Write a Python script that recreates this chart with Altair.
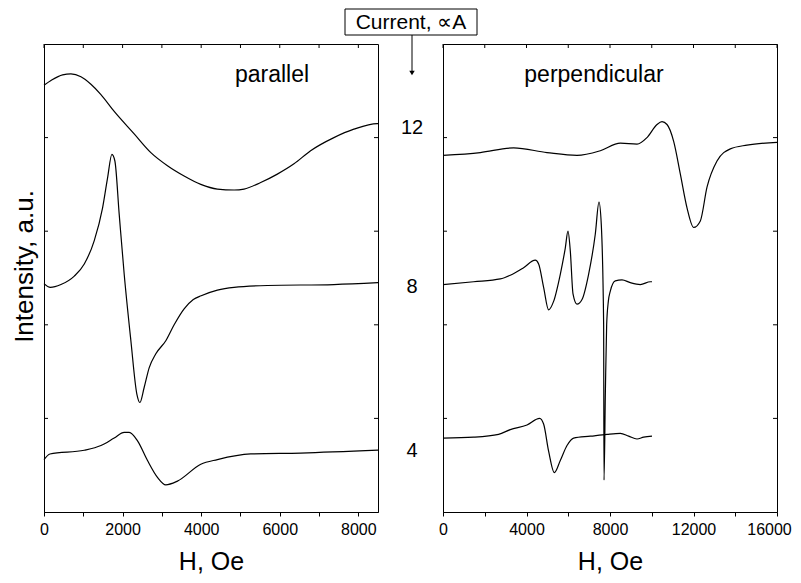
import altair as alt
import pandas as pd

# ---------------- data ----------------
currents = ["12", "8", "4"]

# parallel panel
par_h_12 = [0, 178, 474, 686, 940, 1194, 1449, 1787, 2295, 2719, 3142, 3566, 3990, 4413,
            4837, 5091, 5515, 5938, 6362, 6785, 7378, 7886, 8479, 8500]
par_i_12 = [4.56, 4.61, 4.67, 4.68, 4.65, 4.57, 4.46, 4.28, 4.04, 3.84, 3.70, 3.59, 3.50, 3.45,
            3.44, 3.45, 3.52, 3.61, 3.72, 3.86, 4.00, 4.09, 4.15, 4.15]

par_h_8 = [0, 161, 432, 771, 1025, 1279, 1491, 1618, 1728, 1804, 1914, 2041, 2211, 2363, 2440,
           2549, 2676, 2846, 3100, 3312, 3566, 3800, 4000, 4413, 4837, 5684, 7378, 8500]
par_i_8 = [2.44, 2.40, 2.43, 2.52, 2.65, 2.90, 3.25, 3.57, 3.82, 3.75, 3.18, 2.54, 1.83, 1.26, 1.17,
           1.33, 1.54, 1.69, 1.83, 2.00, 2.17, 2.27, 2.31, 2.37, 2.40, 2.42, 2.43, 2.45]

par_h_4 = [0, 151, 1025, 1449, 1787, 2041, 2168, 2380, 2634, 2888, 3100, 3396, 3990, 4413,
           5260, 6531, 8500]
par_i_4 = [0.56, 0.62, 0.66, 0.71, 0.79, 0.85, 0.85, 0.76, 0.55, 0.37, 0.29, 0.33, 0.51, 0.56,
           0.62, 0.63, 0.66]

# perpendicular panel
per_h_12 = [0, 1788, 3385, 4982, 6419, 7537, 8495, 9294, 9772, 10252, 10491, 10731, 11050, 11370,
            11689, 12008, 12327, 12647, 13126, 13764, 14563, 16000]
per_i_12 = [3.81, 3.84, 3.89, 3.84, 3.81, 3.86, 3.94, 3.93, 4.00, 4.14, 4.17, 4.14, 3.96, 3.61,
            3.25, 3.04, 3.11, 3.47, 3.75, 3.88, 3.92, 3.95]

per_h_8 = [0, 1466, 2745, 3224, 3861, 4421, 4581, 4820, 5059, 5298, 5619, 5858, 5987, 6098, 6228,
           6419, 6659, 6975, 7296, 7472, 7583, 7695, 7713, 7780, 7840, 7920, 8015, 8254, 8575,
           8973, 9452, 9931, 10012]
per_i_8 = [2.43, 2.46, 2.49, 2.53, 2.61, 2.69, 2.65, 2.40, 2.16, 2.25, 2.54, 2.82, 3.00, 2.79, 2.33,
           2.22, 2.27, 2.54, 2.97, 3.31, 3.07, 2.01, 0.34, 1.30, 2.00, 2.25, 2.36, 2.47, 2.48,
           2.45, 2.43, 2.46, 2.46]

per_h_4 = [0, 1466, 2663, 3224, 4024, 4629, 4820, 5059, 5332, 5619, 5940, 6257, 7057, 7856, 8495,
           8893, 9293, 9612, 10012]
per_i_4 = [0.79, 0.80, 0.83, 0.88, 0.93, 1.00, 0.94, 0.65, 0.42, 0.55, 0.71, 0.79, 0.81, 0.83, 0.84,
           0.81, 0.78, 0.80, 0.81]

par_ticks = [0, 1000, 2000, 3000, 4000, 5000, 6000, 7000, 8000]
per_ticks = [0, 2000, 4000, 6000, 8000, 10000, 12000, 14000, 16000]
y_ticks = [1, 2, 3, 4]

# ---------------- helpers ----------------
FONT = "Liberation Sans"
W, HT = 334, 468
TK = 4  # inward tick length


def curves(hs, vs):
    rows = []
    for name, h, v in zip(currents, hs, vs):
        rows += [{"H": a, "I": b, "current": name} for a, b in zip(h, v)]
    return pd.DataFrame(rows)


y_scale = alt.Scale(domain=[0, 5], nice=False, zero=False)


def panel(df, xmax, xticks, major, label, label_x, show_ytitle):
    xs = alt.Scale(domain=[0, xmax], nice=False, zero=False)
    xaxis = alt.Axis(values=xticks, format="d",
                     labelExpr=f"datum.value % {major} == 0 ? datum.label : ''",
                     labelOffset={"condition": {"test": "datum.value == 16000", "value": -8},
                                  "value": 0},
                     title="H, Oe", tickSize=4, labelPadding=5, labelFlush=False,
                     labelFontSize=16, titleFontSize=25, titlePadding=12, grid=False)
    if show_ytitle:
        yaxis = alt.Axis(title="Intensity, a.u.", labels=False, ticks=False, grid=False,
                         titleFontSize=26, titlePadding=7, titleY=222)
    else:
        yaxis = alt.Axis(title=None, labels=False, ticks=False, grid=False)

    X = alt.X("H:Q", scale=xs, axis=xaxis)
    Y = alt.Y("I:Q", scale=y_scale, axis=yaxis)

    lines = alt.Chart(df).mark_line(color="black", strokeWidth=1.2, interpolate="monotone").encode(
        x=X, y=Y, detail="current:N", order="H:Q")
    tdf = pd.DataFrame({"H": xticks})
    top_ticks = alt.Chart(tdf).mark_rule(color="black", strokeWidth=1).encode(
        x=X, y=alt.value(0), y2=alt.value(TK))
    ydf = pd.DataFrame({"I": y_ticks})
    left_ticks = alt.Chart(ydf).mark_rule(color="black", strokeWidth=1).encode(
        y=Y, x=alt.value(0), x2=alt.value(TK))
    right_ticks = alt.Chart(ydf).mark_rule(color="black", strokeWidth=1).encode(
        y=Y, x=alt.value(W), x2=alt.value(W - TK))
    txt = alt.Chart(pd.DataFrame({"s": [label]})).mark_text(
        font=FONT, fontSize=23, color="black", align="center", baseline="middle").encode(
        text="s:N", x=alt.value(label_x), y=alt.value(31))
    return [lines, top_ticks, left_ticks, right_ticks, txt]


left_layers = panel(curves([par_h_12, par_h_8, par_h_4], [par_i_12, par_i_8, par_i_4]),
                    8500, par_ticks, 2000, "parallel", 228, True)
right_layers = panel(curves([per_h_12, per_h_8, per_h_4], [per_i_12, per_i_8, per_i_4]),
                     16000, per_ticks, 4000, "perpendicular", 151, False)

# annotations between the panels (current values, boxed legend title, arrow)
label_y_px = [84, 243, 407]
for lab, yp in zip(currents, label_y_px):
    right_layers.append(
        alt.Chart(pd.DataFrame({"s": [lab]})).mark_text(
            font=FONT, fontSize=20, color="black", align="center", baseline="middle").encode(
            text="s:N", x=alt.value(-31), y=alt.value(yp)))

one = pd.DataFrame({"s": ["Current, \u221dA"]})
right_layers.append(
    alt.Chart(one).mark_rect(fill="white", stroke="black", strokeWidth=1).encode(
        x=alt.value(-98), x2=alt.value(34), y=alt.value(-35), y2=alt.value(-9)))
right_layers.append(
    alt.Chart(one).mark_text(font=FONT, fontSize=21, color="black", align="center",
                             baseline="middle").encode(
        text="s:N", x=alt.value(-32), y=alt.value(-21)))
right_layers.append(
    alt.Chart(one).mark_rule(color="black", strokeWidth=1).encode(
        x=alt.value(-31), y=alt.value(-9), y2=alt.value(27)))
right_layers.append(
    alt.Chart(one).mark_point(shape="triangle-down", filled=True, size=30, color="black",
                              opacity=1).encode(
        x=alt.value(-31), y=alt.value(29)))

left = alt.layer(*left_layers).properties(width=W, height=HT)
right = alt.layer(*right_layers).properties(width=W, height=HT)

chart = alt.hconcat(left, right, spacing=65, bounds="flush").properties(
    padding={"left": 2, "top": 0, "right": 0, "bottom": 0}
).configure_view(stroke="black", strokeWidth=1).configure_axis(
    domainColor="black", tickColor="black", labelColor="black", titleColor="black",
    labelFont=FONT, titleFont=FONT, titleFontWeight="normal", domainWidth=1, tickWidth=1
)

chart.save("out.html", embed_options={"renderer": "svg", "actions": False})
